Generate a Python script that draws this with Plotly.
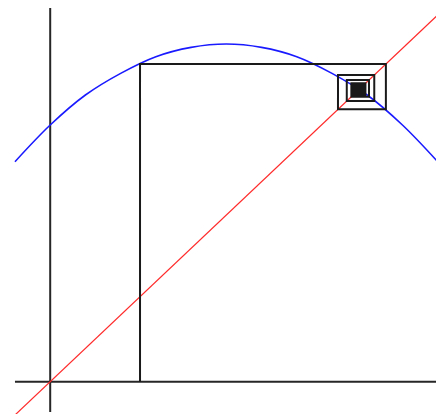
import plotly.graph_objects as go

# cobweb iterates x0, x1, ...
orbit = [0.255, 0.953, 0.817, 0.920, 0.842, 0.905, 0.855, 0.895, 0.858,
         0.892, 0.861, 0.889, 0.864, 0.886, 0.867, 0.883, 0.869, 0.881,
         0.871, 0.879, 0.873, 0.877, 0.874, 0.876, 0.875]

# map curve (blue) sample points
curve_x = [-0.1, 0.0, 0.1, 0.2, 0.3, 0.4, 0.5, 0.6, 0.7, 0.8, 0.9, 1.0, 1.1]
curve_y = [0.66, 0.77, 0.86, 0.925, 0.975, 1.003, 1.013, 1.003, 0.975, 0.925, 0.86, 0.77, 0.66]

# diagonal y = x
diag_x = [-0.1, 1.1]

x_lo, x_hi = -0.1, 1.1
y_lo, y_hi = -0.091, 1.13

# cobweb path
web_x = [orbit[0]]
web_y = [0]
for a, b in zip(orbit[:-1], orbit[1:]):
    web_x += [a, b]
    web_y += [b, b]

fig = go.Figure()
axis_style = dict(color="#262626", width=2)
fig.add_trace(go.Scatter(x=[x_lo, x_hi], y=[0, 0], mode="lines", line=axis_style))
fig.add_trace(go.Scatter(x=[0, 0], y=[y_lo, y_hi], mode="lines", line=axis_style))
fig.add_trace(go.Scatter(x=curve_x, y=curve_y, mode="lines",
                         line=dict(color="#1a1aff", width=1.6, shape="spline")))
fig.add_trace(go.Scatter(x=diag_x, y=diag_x, mode="lines",
                         line=dict(color="#ff2a2a", width=1.2)))
fig.add_trace(go.Scatter(x=web_x, y=web_y, mode="lines",
                         line=dict(color="#1a1a1a", width=2)))

# page body has an 8px margin, so the figure is sized to fill the rest
fig.update_layout(
    width=436, height=406,
    margin=dict(l=0, r=0, t=0, b=0),
    paper_bgcolor="white", plot_bgcolor="white",
    showlegend=False,
    xaxis=dict(range=[-0.1198, 1.118], visible=False, fixedrange=True),
    yaxis=dict(range=[-0.0969, 1.121], visible=False, fixedrange=True),
)

fig.write_html("out.html")
